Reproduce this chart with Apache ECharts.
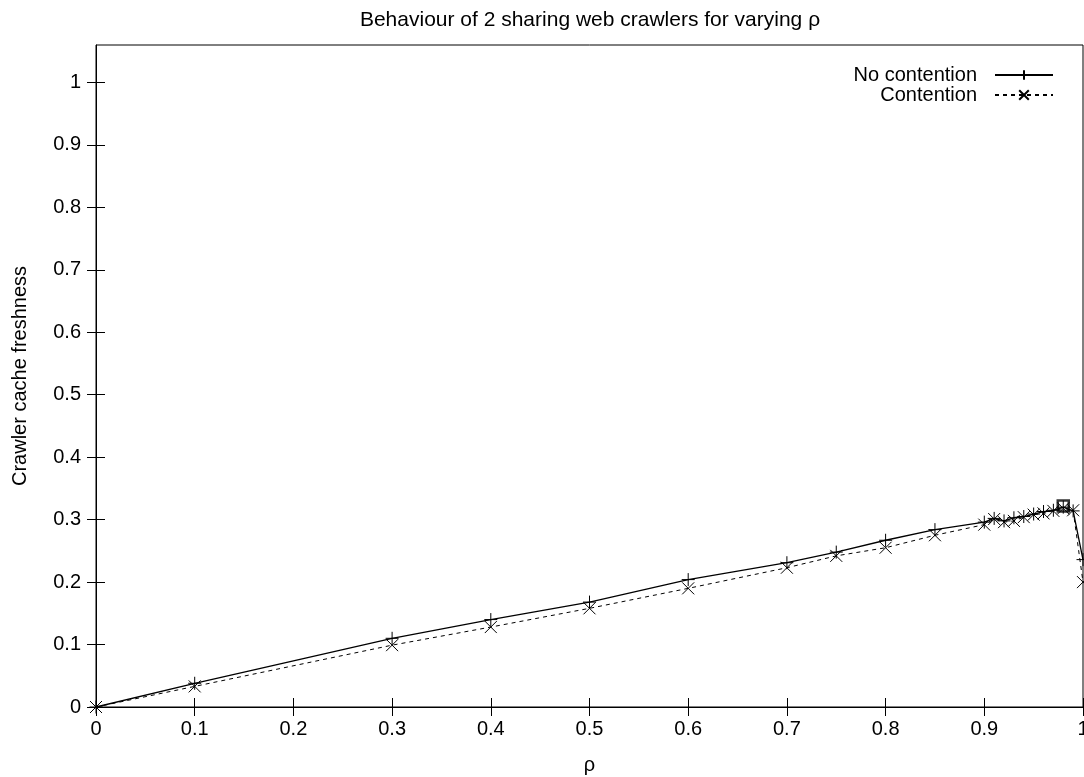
<!DOCTYPE html>
<html>
<head>
<meta charset="utf-8">
<script src="https://cdn.jsdelivr.net/npm/echarts@6/dist/echarts.min.js"></script>
<style>
    html, body { margin: 0; padding: 0; background: #fff; }
    #chart { width: 1084px; height: 777px; }
</style>
</head>
<body>
<div id="chart"></div>
<script>
// rho values (x) and freshness for both series
var rho = [0, 0.1, 0.3, 0.4, 0.5, 0.6, 0.7, 0.75, 0.8, 0.85, 0.9, 0.91, 0.92, 0.93, 0.94, 0.95, 0.96, 0.97, 0.98, 0.99, 1.0];
var noContention = [0, 0.038, 0.11, 0.14, 0.168, 0.204, 0.231, 0.248, 0.267, 0.284, 0.296, 0.302, 0.298, 0.303, 0.305, 0.309, 0.313, 0.315, 0.32, 0.314, 0.236];
var contention   = [0, 0.033, 0.099, 0.128, 0.158, 0.19, 0.223, 0.242, 0.255, 0.275, 0.292, 0.301, 0.296, 0.298, 0.304, 0.308, 0.31, 0.314, 0.318, 0.315, 0.2];
// the boxed point near the peak
var peakPoint = [[0.98, 0.322]];

var xTicks = [0, 0.1, 0.2, 0.3, 0.4, 0.5, 0.6, 0.7, 0.8, 0.9, 1];
var yTicks = [0, 0.1, 0.2, 0.3, 0.4, 0.5, 0.6, 0.7, 0.8, 0.9, 1];

function pairs(xs, ys) {
    var out = [];
    for (var i = 0; i < xs.length; i++) out.push([xs[i], ys[i]]);
    return out;
}

var plusSym = 'path://M0,5L10,5M5,0L5,10';
var crossSym = 'path://M0,0L10,10M10,0L0,10';
var font = 'Liberation Sans, Arial, sans-serif';

var chart = echarts.init(document.getElementById('chart'));

function tickStyle(vals) {
    return { inside: true, length: 9, customValues: vals, lineStyle: { color: '#000', width: 1 } };
}

chart.setOption({
    animation: false,
    backgroundColor: '#fff',
    title: {
        text: 'Behaviour of 2 sharing web crawlers for varying ρ',
        left: 590,
        textAlign: 'center',
        top: 10,
        padding: 0,
        textStyle: { fontFamily: font, fontSize: 21, fontWeight: 'normal', color: '#000' }
    },
    legend: {
        orient: 'vertical',
        right: 30,
        top: 65,
        padding: 0,
        align: 'right',
        itemWidth: 58,
        itemHeight: 12,
        itemGap: 0,
        textStyle: { fontFamily: font, fontSize: 20, color: '#000', padding: [0, 13, 0, 0] },
        data: ['No contention', 'Contention']
    },
    grid: {
        left: 96,
        right: 1,
        top: 45,
        bottom: 70,
        outerBoundsMode: 'none',
        containLabel: false,
        show: true,
        borderColor: '#000',
        borderWidth: 1
    },
    xAxis: [{
        type: 'value',
        min: 0,
        max: 1,
        interval: 0.1,
        name: 'ρ',
        nameLocation: 'middle',
        nameGap: 48,
        nameTextStyle: { fontFamily: font, fontSize: 20, color: '#000' },
        axisLine: { lineStyle: { color: '#000' } },
        axisTick: tickStyle(xTicks),
        splitLine: { show: false },
        axisLabel: {
            fontFamily: font, fontSize: 20, color: '#000', margin: 12,
            customValues: xTicks,
            formatter: function (v) { return String(+v.toFixed(1)); }
        }
    }, {
        type: 'value',
        position: 'top',
        min: 0,
        max: 1,
        interval: 0.1,
        axisLine: { show: false },
        axisTick: tickStyle(xTicks),
        axisLabel: { show: false },
        splitLine: { show: false }
    }],
    yAxis: [{
        type: 'value',
        min: 0,
        max: 1.06,
        interval: 0.1,
        name: 'Crawler cache freshness',
        nameLocation: 'middle',
        nameRotate: 90,
        nameGap: 66,
        nameTextStyle: { fontFamily: font, fontSize: 20, color: '#000' },
        axisLine: { lineStyle: { color: '#000' } },
        axisTick: tickStyle(yTicks),
        splitLine: { show: false },
        axisLabel: {
            fontFamily: font, fontSize: 20, color: '#000', margin: 15,
            customValues: yTicks,
            formatter: function (v) { return String(+v.toFixed(1)); }
        }
    }, {
        type: 'value',
        position: 'right',
        min: 0,
        max: 1.06,
        interval: 0.1,
        axisLine: { show: false },
        axisTick: tickStyle(yTicks),
        axisLabel: { show: false },
        splitLine: { show: false }
    }],
    series: [
        {
            name: 'No contention',
            type: 'line',
            data: pairs(rho, noContention),
            symbol: plusSym,
            symbolSize: 13,
            itemStyle: { color: 'rgba(0,0,0,0)', borderColor: '#000', borderWidth: 1 },
            lineStyle: { color: '#000', width: 1.3, type: 'solid' },
            z: 3
        },
        {
            name: 'Contention',
            type: 'line',
            data: pairs(rho, contention),
            symbol: crossSym,
            symbolSize: 12,
            itemStyle: { color: 'rgba(0,0,0,0)', borderColor: '#000', borderWidth: 1 },
            lineStyle: { color: '#000', width: 1, type: [4, 4] },
            z: 2
        },
        {
            name: 'peak',
            type: 'scatter',
            data: peakPoint,
            symbol: 'rect',
            symbolSize: 11,
            itemStyle: { color: 'rgba(0,0,0,0)', borderColor: '#000', borderWidth: 2.5 },
            z: 4
        }
    ]
});
</script>
</body>
</html>
